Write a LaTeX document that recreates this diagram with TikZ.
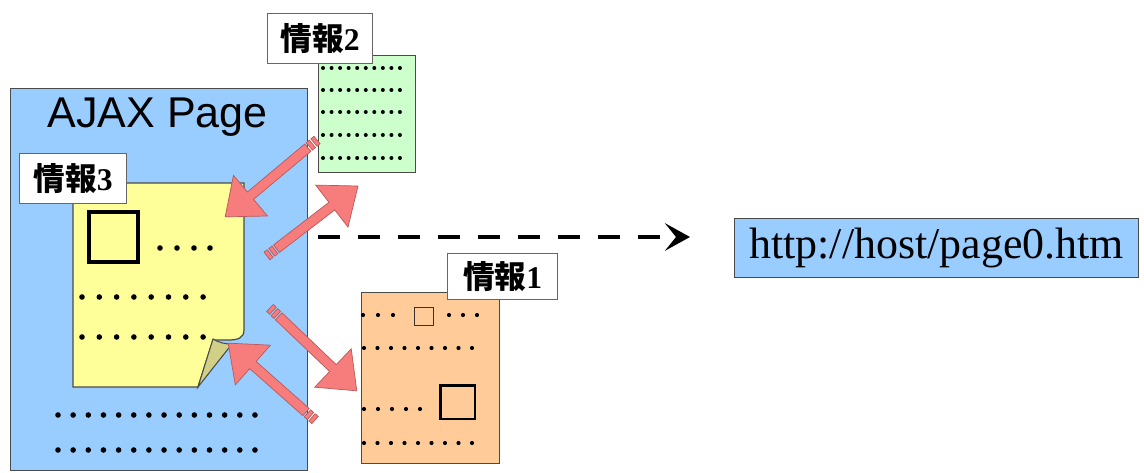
\documentclass[tikz,border=0pt]{standalone}
\usepackage{fontspec}
\setmainfont{Liberation Serif}
\newfontfamily\arialf{Liberation Sans}
\newfontfamily\cjk{Noto Sans CJK JP}
\usetikzlibrary{arrows.meta}
\definecolor{ajaxblue}{HTML}{99CCFF}
\definecolor{noteyellow}{HTML}{FFFF99}
\definecolor{flapcol}{HTML}{D2CF86}
\definecolor{greenbox}{HTML}{CCFFCC}
\definecolor{orangebox}{HTML}{FFCC99}
\definecolor{arrowred}{HTML}{F77C7C}
\definecolor{arrowedge}{HTML}{B85A5A}
\definecolor{edgegray}{HTML}{4A4A4A}
\newcommand\blockarrow[2]{%
  \pgfpointdiff{\pgfpointanchor{#1}{center}}{\pgfpointanchor{#2}{center}}%
  \pgfgetlastxy{\bax}{\bay}%
  \pgfmathsetmacro\baang{atan2(\bay,\bax)}%
  \pgfmathsetmacro\balen{veclen(\bax,\bay)/0.569055}%
  \begin{scope}[shift={(#1)}, rotate=\baang]
    \path[barrow] (0,-4.8) rectangle (4,4.8) (6,-4.8) rectangle (10,4.8)
      (12,-4.8) -- ({\balen-33},-4.8) -- ({\balen-33},-26.5) -- (\balen,0)
      -- ({\balen-33},26.5) -- ({\balen-33},4.8) -- (12,4.8) -- cycle;
  \end{scope}}
\begin{document}
\begin{tikzpicture}[x=0.02cm,y=-0.02cm,
  box/.style={draw=edgegray, line width=0.8pt, inner sep=0pt, anchor=north west},
  lbl/.style={draw=black!60, fill=white, line width=0.8pt, inner sep=0pt, anchor=north west,
    font=\fontsize{18}{20}\selectfont},
  bigdot/.style={fill=black},
  barrow/.style={fill=arrowred, draw=arrowedge, line width=0.4pt},
  dasharrow/.style={line width=0.1cm, dash pattern=on 0.44cm off 0.36cm,
    -{Stealth[length=0.5cm,width=0.55cm,inset=0.22cm]}},
  sqbox/.style={draw=black, line width=0.08cm},
]
\useasboundingbox (0,0) rectangle (1144,473);

% AJAX page
\node[box, fill=ajaxblue, minimum width=5.94cm, minimum height=7.64cm] (ajax) at (10,88) {};
\node[anchor=base, inner sep=0pt, font=\arialf\fontsize{24.5}{28}\selectfont] (ajaxtitle) at (157.5,128) {AJAX Page};
\foreach \yy in {415,450}
  \foreach \k in {0,...,13}
    \fill[bigdot] ({58+\k*15.15},\yy) circle (2.8);

% yellow note
\path[fill=noteyellow, draw=edgegray, line width=0.7pt]
  (73,183) -- (244,183) -- (244,330) .. controls (244,338) and (238,340) .. (228,340)
  -- (213,340) -- (198,387) -- (73,387) -- cycle;
\path[fill=flapcol, draw=edgegray, line width=0.6pt]
  (198,387) -- (213,339) .. controls (220,343) and (225,344) .. (232,344) -- cycle;
\node[sqbox, minimum width=0.98cm, minimum height=1.0cm, anchor=north west, inner sep=0pt] (sq3) at (87,210) {};
\foreach \xx in {160,177,194,210} \fill[bigdot] (\xx,248) circle (2.8);
\foreach \yy in {297,337}
  \foreach \k in {0,...,7}
    \fill[bigdot] ({82+\k*17.3},\yy) circle (2.8);
\node[lbl, minimum width=2.14cm, minimum height=1.0cm] (lbl3) at (19,153) {{\cjk\bfseries 情報}{\bfseries 3}};

% green box
\node[box, fill=greenbox, minimum width=1.94cm, minimum height=2.34cm] (green) at (318,55) {};
\foreach \yy in {68,90,112,135,158}
  \foreach \k in {0,...,9}
    \fill[bigdot] ({323+\k*8.55},\yy) circle (2.0);
\node[lbl, minimum width=2.1cm, minimum height=1.0cm] (lbl2) at (267,13) {{\cjk\bfseries 情報}{\bfseries 2}};

% orange box
\node[box, fill=orangebox, minimum width=2.76cm, minimum height=3.42cm] (orange) at (361,292) {};
\foreach \xx in {363,378,393,449,463,477} \fill[bigdot] (\xx,315) circle (2.1);
\node[draw=black!80, line width=0.7pt, minimum width=0.38cm, minimum height=0.36cm, anchor=north west, inner sep=0pt] (sq1a) at (414,307) {};
\foreach \yy in {348,443}
  \foreach \k in {0,...,8}
    \fill[bigdot] ({364+\k*13.5},\yy) circle (2.1);
\foreach \k in {0,...,4} \fill[bigdot] ({364+\k*14},409) circle (2.1);
\node[sqbox, line width=0.05cm, minimum width=0.7cm, minimum height=0.68cm, anchor=north west, inner sep=0pt] (sq1b) at (439,384) {};
\node[lbl, minimum width=2.2cm, minimum height=0.92cm] (lbl1) at (447,253) {{\cjk\bfseries 情報}{\bfseries 1}};

% block arrows
\coordinate (a1t) at (317,140); \coordinate (a1h) at (225,217);
\coordinate (a2t) at (267,256); \coordinate (a2h) at (358,186);
\coordinate (a3t) at (270,308); \coordinate (a3h) at (357,391);
\coordinate (a4t) at (315,420); \coordinate (a4h) at (228,343);
\blockarrow{a1t}{a1h}
\blockarrow{a2t}{a2h}
\blockarrow{a3t}{a3h}
\blockarrow{a4t}{a4h}

% URL
\node[box, fill=ajaxblue, minimum width=8.08cm, minimum height=1.18cm,
  font=\fontsize{25}{28}\selectfont] (url) at (734,218) {http://host/page0.htm};

% dashed arrow
\coordinate (d1) at (318,237);
\coordinate (d2) at (690,237);
\draw[dasharrow] (d1) -- (d2);
\end{tikzpicture}
\end{document}
